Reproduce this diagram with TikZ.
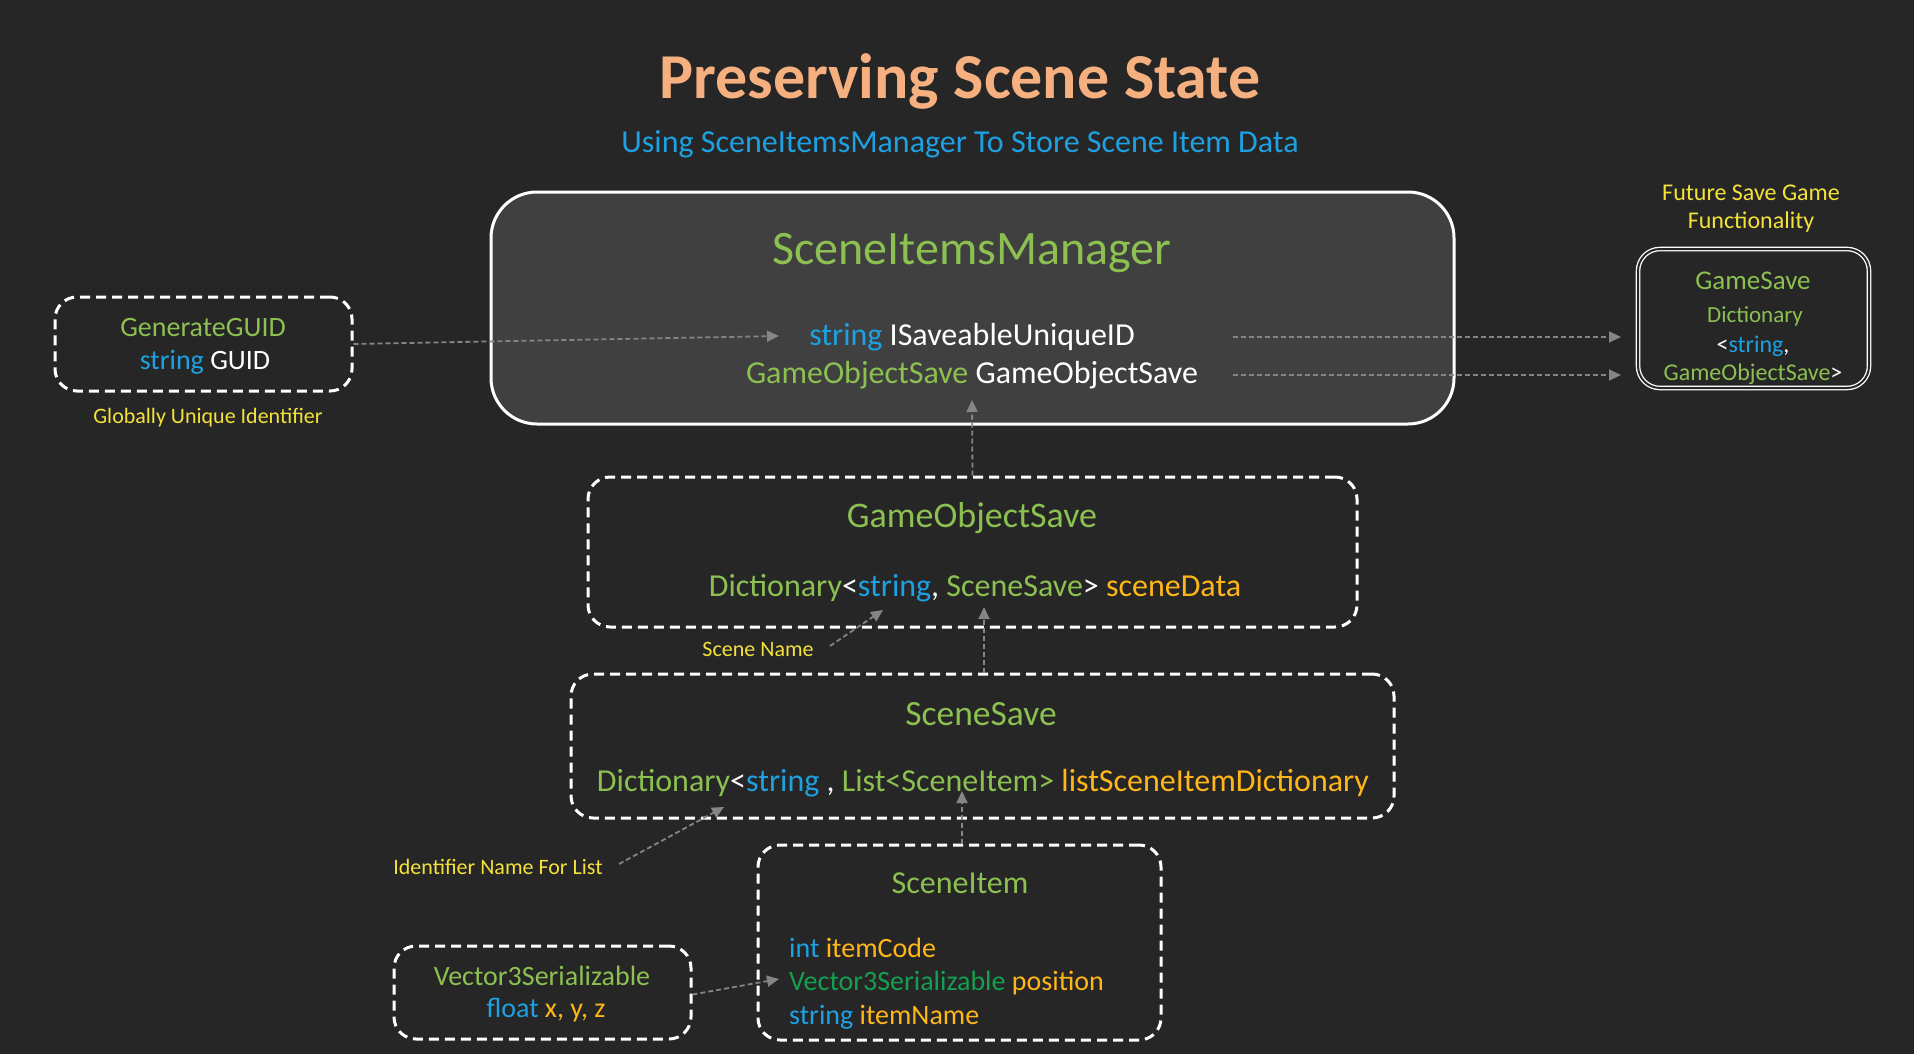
\documentclass[tikz,border=0pt]{standalone}
\usepackage{fontspec}
\setmainfont{Carlito}
\usetikzlibrary{arrows.meta}
\definecolor{bg}{HTML}{262626}
\definecolor{boxfill}{HTML}{404040}
\definecolor{ctitle}{HTML}{F6B07F}
\definecolor{cblue}{HTML}{1DA1E2}
\definecolor{cgreen}{HTML}{8CC152}
\definecolor{corange}{HTML}{FFB619}
\definecolor{cyellow}{HTML}{F4E23A}
\definecolor{cdgreen}{HTML}{14A050}
\definecolor{arrgray}{HTML}{858585}
\newcommand{\Gx}[1]{\textcolor{cgreen}{#1}}
\newcommand{\Bx}[1]{\textcolor{cblue}{#1}}
\newcommand{\Ox}[1]{\textcolor{corange}{#1}}
\newcommand{\Wx}[1]{\textcolor{white}{#1}}
\newcommand{\DGx}[1]{\textcolor{cdgreen}{#1}}
\newcommand{\fs}[1]{\fontsize{#1}{#1}\selectfont}
\begin{document}
\begin{tikzpicture}[x=1pt,y=-1pt,
  tx/.style={inner sep=0pt, text=white},
  dbox/.style={draw=white, line width=3pt, dash pattern=on 10pt off 6pt, rounded corners=22pt, inner sep=0pt},
  smbox/.style={draw=white, fill=boxfill, line width=3pt, rounded corners=46pt, inner sep=0pt},
  gsbox/.style={draw=white, double=bg, double distance=2pt, line width=1.3pt, rounded corners=22pt, inner sep=0pt},
  garrow/.style={draw=arrgray, line width=1.8pt, dash pattern=on 5pt off 3pt, -{Triangle[length=12pt,width=11pt]}},
  ylabel/.style={tx, text=cyellow, font=\fs{22}}
]
\fill[bg] (0,0) rectangle (1914,1054);
\useasboundingbox (0,0) rectangle (1914,1054);

% Title
\node[tx, text=ctitle, font=\fs{64}\bfseries] (title) at (960,81) {Preserving Scene State};
\node[tx, text=cblue, font=\fs{32}] (subtitle) at (960,144) {Using SceneItemsManager To Store Scene Item Data};

% SceneItemsManager
\node[smbox, minimum width=963pt, minimum height=232pt] (sim) at (972.5,308) {};
\node[tx, text=cgreen, font=\fs{48}] (simtitle) at (972,253) {SceneItemsManager};
\node[tx, font=\fs{32}] (line1) at (972,337) {\Bx{string} ISaveableUniqueID};
\node[tx, font=\fs{32}] (line2) at (972,375) {\Gx{GameObjectSave} GameObjectSave};

% GenerateGUID
\node[dbox, minimum width=297pt, minimum height=94pt] (guid) at (203.5,344) {};
\node[tx, text=cgreen, font=\fs{28}] (guidt) at (203,328) {GenerateGUID};
\node[tx, font=\fs{28}] (guidl) at (205,362) {\Bx{string} GUID};
\node[ylabel] (glab) at (208,418) {Globally Unique Identifier};

% GameSave
\node[ylabel, font=\fs{24}] (fut1) at (1751,193) {Future Save Game};
\node[ylabel, font=\fs{24}] (fut2) at (1751,222) {Functionality};
\node[gsbox, minimum width=231pt, minimum height=139pt] (gs) at (1753.5,318.5) {};
\node[tx, text=cgreen, font=\fs{27}] (gst) at (1753,281) {GameSave};
\node[tx, text=cgreen, font=\fs{23}] (gs1) at (1755,316) {Dictionary};
\node[tx, font=\fs{24}] (gs2) at (1753,346) {<\Bx{string},};
\node[tx, font=\fs{24}] (gs3) at (1753,374) {\Gx{GameObjectSave}>};

% GameObjectSave
\node[dbox, minimum width=769pt, minimum height=150pt] (gos) at (972.5,552) {};
\node[tx, text=cgreen, font=\fs{36}] (gost) at (972,518) {GameObjectSave};
\node[tx, font=\fs{32}] (gosl) at (975,588) {\Gx{Dictionary}<\Bx{string}, \Gx{SceneSave}> \Ox{sceneData}};
\node[ylabel] (snlab) at (758,649) {Scene Name};

% SceneSave
\node[dbox, minimum width=823pt, minimum height=144pt] (ss) at (982.5,746) {};
\node[tx, text=cgreen, font=\fs{35.5}] (sst) at (981,714) {SceneSave};
\node[tx, font=\fs{32}] (ssl) at (983,783) {\Gx{Dictionary}<\Bx{string} , \Gx{List<SceneItem>} \Ox{listSceneItemDictionary}};
\node[ylabel] (idlab) at (498,867) {Identifier Name For List};

% SceneItem
\node[dbox, minimum width=403pt, minimum height=195pt] (si) at (959.5,942.5) {};
\node[tx, text=cgreen, font=\fs{32}] (sit) at (960,883) {SceneItem};
\node[tx, font=\fs{28}, anchor=west] (si1) at (789,948) {\Bx{int} \Ox{itemCode}};
\node[tx, font=\fs{28}, anchor=west] (si2) at (789,983) {\DGx{Vector3Serializable} \Ox{position}};
\node[tx, font=\fs{28}, anchor=west] (si3) at (789,1017) {\Bx{string} \Ox{itemName}};

% Vector3Serializable
\node[dbox, minimum width=297pt, minimum height=93pt] (v3) at (542.5,992.5) {};
\node[tx, text=cgreen, font=\fs{28}] (v3t) at (542,976) {Vector3Serializable};
\node[tx, font=\fs{28}] (v3l) at (546,1010) {\Bx{float} \Ox{x, y, z}};

% arrow end points
\coordinate (t1) at (779,336);
\coordinate (s2) at (1233,337);
\coordinate (t2) at (1621,337);
\coordinate (s3) at (1233,375);
\coordinate (t3) at (1621,375);
\coordinate (t4) at (972,400);
\coordinate (s5) at (830,646);
\coordinate (t5) at (883,610);
\coordinate (t6) at (984,607);
\coordinate (s7) at (619,864);
\coordinate (t7) at (724,807);
\coordinate (t8) at (962,791);
\coordinate (t9) at (779,979);

% connectors
\draw[garrow] (guid.east) -- (t1);
\draw[garrow] (s2) -- (t2);
\draw[garrow] (s3) -- (t3);
\draw[garrow] (gos.north) -- (t4);
\draw[garrow] (s5) -- (t5);
\draw[garrow] (ss.north -| t6) -- (t6);
\draw[garrow] (s7) -- (t7);
\draw[garrow] (si.north -| t8) -- (t8);
\draw[garrow] ([yshift=-2pt]v3.east) -- (t9);
\end{tikzpicture}
\end{document}
